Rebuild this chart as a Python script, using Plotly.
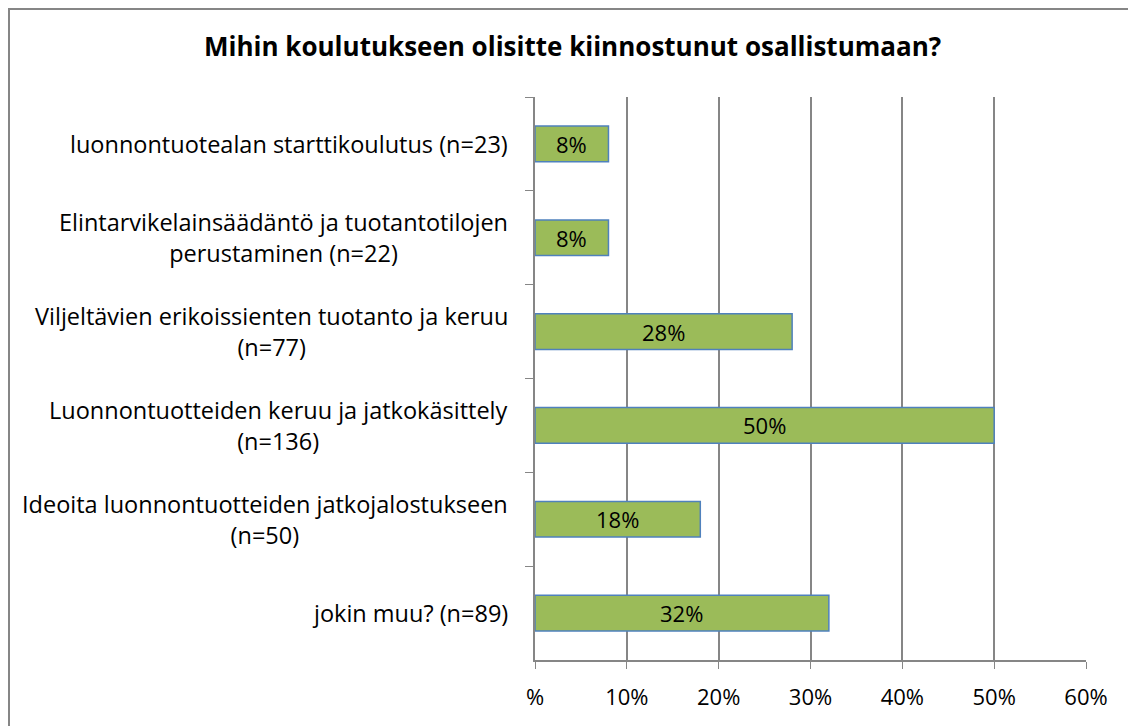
import plotly.graph_objects as go

categories = [
    "luonnontuotealan starttikoulutus (n=23)",
    "Elintarvikelainsäädäntö ja tuotantotilojen<br>perustaminen (n=22)",
    "Viljeltävien erikoissienten tuotanto ja keruu<br>(n=77)",
    "Luonnontuotteiden keruu ja jatkokäsittely<br>(n=136)",
    "Ideoita luonnontuotteiden jatkojalostukseen<br>(n=50)",
    "jokin muu? (n=89)",
]
values = [8, 8, 28, 50, 18, 32]
tick_values = [0, 10, 20, 30, 40, 50, 60]
tick_labels = ["%", "10%", "20%", "30%", "40%", "50%", "60%"]
title_text = "Mihin koulutukseen olisitte kiinnostunut osallistumaan?"

FONT = "Open Sans"
L, R, T, B = 527, 58, 89, 74
W, H = 1136, 726
PW, PH = W - L - R, H - T - B

fig = go.Figure(
    go.Bar(
        y=categories,
        x=values,
        orientation="h",
        marker=dict(color="#9BBB59", line=dict(color="#4F81BD", width=1.5)),
        textposition="none",
        width=0.38,
        hoverinfo="skip",
    )
)

# Data labels centred in the bars
for c, v in zip(categories, values):
    fig.add_annotation(
        x=v / 2, xref="x", y=c, yref="y",
        text=f"{v}%", showarrow=False, xanchor="center", yanchor="middle",
        font=dict(family=FONT, size=22, color="black"),
    )

# Category labels (centred multi-line, right-anchored)
for c in categories:
    fig.add_annotation(
        x=-0.045, xref="paper", y=c, yref="y",
        text=c, showarrow=False, xanchor="right", yanchor="middle",
        align="center", font=dict(family=FONT, size=23.5, color="black"),
    )

fig.update_layout(
    width=W, height=H,
    margin=dict(l=L, r=R, t=T, b=B),
    paper_bgcolor="white", plot_bgcolor="white",
    showlegend=False,
    title=dict(
        text=f"<b>{title_text}</b>", x=0.497, xanchor="center",
        y=0.946, yanchor="middle",
        font=dict(family=FONT, size=26, color="black"),
    ),
    xaxis=dict(
        range=[0, 60], tickvals=tick_values, ticktext=tick_labels,
        showgrid=True, gridcolor="#868686", gridwidth=1.5,
        ticks="outside", ticklen=7, tickcolor="#868686",
        ticklabelstandoff=10,
        showline=True, linecolor="#868686", linewidth=1.5,
        zeroline=False,
        tickfont=dict(family=FONT, size=22, color="black"),
    ),
    yaxis=dict(
        autorange="reversed", type="category",
        showticklabels=False, ticks="outside", ticklen=8,
        tickcolor="#868686", tickson="boundaries",
        showline=True, linecolor="#868686", linewidth=1.5,
        showgrid=False,
    ),
    shapes=[dict(
        type="rect", xref="paper", yref="paper",
        x0=(1 - L) / PW, x1=(W + 20 - L) / PW,
        y0=(PH + T - H - 20) / PH, y1=(PH + T - 1) / PH,
        line=dict(color="#868686", width=2), fillcolor="rgba(0,0,0,0)",
        layer="below",
    )],
)

fig.write_html("out.html")
